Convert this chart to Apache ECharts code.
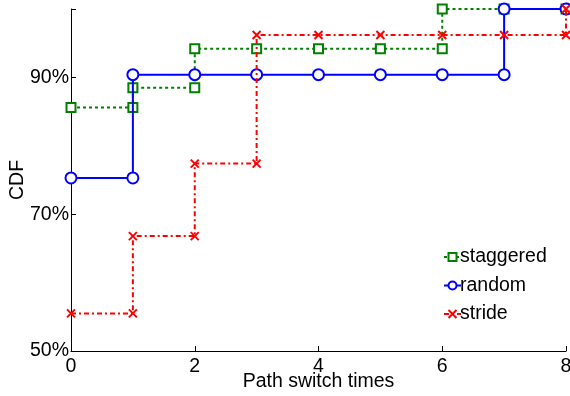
<!DOCTYPE html>
<html>
<head>
<meta charset="utf-8">
<script src="https://cdn.jsdelivr.net/npm/echarts@6/dist/echarts.min.js"></script>
<style>html,body{margin:0;padding:0;background:#fff}#c{width:570px;height:396px}</style>
</head>
<body>
<div id="c"></div>
<script>
// Step vertices (x = path switch times, y = CDF %)
const staggeredX = [0, 1, 1, 2, 2, 3, 4, 5, 6, 6, 7, 8];
const staggeredY = [85.6, 85.6, 88.5, 88.5, 94.2, 94.2, 94.2, 94.2, 94.2, 100, 100, 100];
const randomX = [0, 1, 1, 2, 3, 4, 5, 6, 7, 7, 8];
const randomY = [75.3, 75.3, 90.4, 90.4, 90.4, 90.4, 90.4, 90.4, 90.4, 100, 100];
const strideX = [0, 1, 1, 2, 2, 3, 3, 4, 5, 6, 7, 8, 8];
const strideY = [55.5, 55.5, 66.8, 66.8, 77.4, 77.4, 96.2, 96.2, 96.2, 96.2, 96.2, 96.2, 100];
const xTicks = [0, 2, 4, 6, 8];
const yTicks = [50, 70, 90];
const seriesNames = ['staggered', 'random', 'stride'];

const pairs = (xs, ys) => xs.map((x, i) => [x, ys[i]]);
const FONT = 'Liberation Sans';
const chart = echarts.init(document.getElementById('c'), null, {renderer: 'canvas'});
chart.setOption({
  animation: false,
  backgroundColor: '#fff',
  grid: {left: 71, right: 4, top: 9, bottom: 45, containLabel: false, outerBoundsMode: 'none'},
  xAxis: {
    type: 'value', min: 0, max: 8, interval: 2,
    name: 'Path switch times', nameLocation: 'middle', nameGap: 21, nameMoveOverlap: false,
    nameTextStyle: {fontFamily: FONT, fontSize: 19.5, color: '#000'},
    axisLine: {lineStyle: {color: '#000', width: 1}},
    axisTick: {inside: true, length: 5, lineStyle: {color: '#000'}},
    axisLabel: {fontFamily: FONT, fontSize: 19.5, color: '#000', margin: 6,
      formatter: v => xTicks.includes(v) ? String(v) : ''},
    splitLine: {show: false}
  },
  yAxis: {
    type: 'value', min: 50, max: 100, interval: 20,
    name: 'CDF', nameLocation: 'middle', nameGap: 43, nameRotate: 90, nameMoveOverlap: false,
    nameTextStyle: {fontFamily: FONT, fontSize: 19.5, color: '#000'},
    axisLine: {show: true, lineStyle: {color: '#000', width: 1}},
    axisTick: {inside: true, length: 5, lineStyle: {color: '#000'}},
    axisLabel: {fontFamily: FONT, fontSize: 19.5, color: '#000', margin: 2,
      formatter: v => yTicks.includes(v) ? v + '%' : ''},
    splitLine: {show: false}
  },
  legend: {
    orient: 'vertical', left: 438, top: 242,
    itemWidth: 17, itemHeight: 10, itemGap: 8.5,
    textStyle: {fontFamily: FONT, fontSize: 19.5, color: '#000', lineHeight: 20, padding: [0, 0, 0, -6]},
    data: seriesNames
  },
  series: [
    {
      name: seriesNames[0], type: 'line', data: pairs(staggeredX, staggeredY),
      symbol: 'emptyRect', symbolSize: 9,
      lineStyle: {color: '#008000', width: 2, type: [3, 3]},
      itemStyle: {color: '#008000', borderWidth: 2},
      z: 2
    },
    {
      name: seriesNames[1], type: 'line', data: pairs(randomX, randomY),
      symbol: 'emptyCircle', symbolSize: 11,
      lineStyle: {color: '#0000ff', width: 2, type: 'solid'},
      itemStyle: {color: '#0000ff', borderWidth: 2},
      z: 3
    },
    {
      name: seriesNames[2], type: 'line', data: pairs(strideX, strideY),
      symbol: 'path://M0,0L10,10M10,0L0,10', symbolSize: 8,
      lineStyle: {color: '#ff0000', width: 2, type: [5, 3, 2, 3]},
      itemStyle: {color: '#ff0000', borderColor: '#ff0000', borderWidth: 2},
      z: 4
    }
  ]
});
</script>
</body>
</html>
